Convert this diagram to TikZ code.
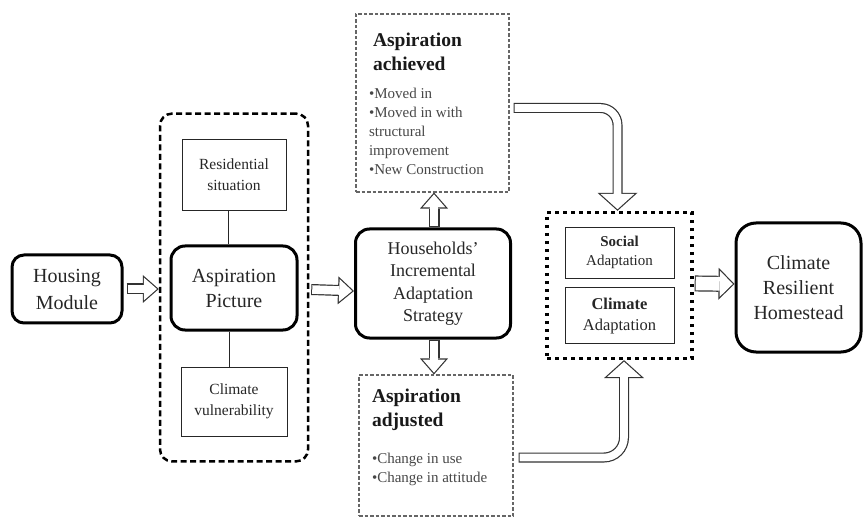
\documentclass[tikz,border=0pt]{standalone}
\usepackage{fontspec}
\setmainfont{Liberation Serif}
\usetikzlibrary{positioning,fit,arrows.meta}

\newcommand\bigsize{\fontsize{20}{26}\selectfont}
\newcommand\midsize{\fontsize{18}{22.5}\selectfont}
\newcommand\smallsize{\fontsize{15.5}{21}\selectfont}
\newcommand\titlesize{\fontsize{19.5}{24}\selectfont\bfseries\color{black!90}}
\newcommand\listsize{\fontsize{15}{19}\selectfont\color{black!72}}

\begin{document}
\begin{tikzpicture}[
  x=1pt, y=1pt,
  every node/.style={text=black!85},
  keybox/.style={draw=black, line width=3pt, rounded corners=12pt, align=center, inner sep=0pt},
  factbox/.style={draw=black!85, line width=0.9pt, align=center, inner sep=0pt},
  notebox/.style={draw=black!60, line width=1.1pt, dash pattern=on 3.5pt off 2pt, inner xsep=13pt, inner ysep=0pt},
  groupframe/.style={draw=black, line width=2.5pt, dash pattern=on 6pt off 3.5pt, rounded corners=12pt},
  dotframe/.style={draw=black, line width=3.5pt, dash pattern=on 3.5pt off 4.5pt},
  fatarrow/.style={draw=black!80, line width=11pt, -{Triangle[length=16pt,width=28pt,line width=0pt]},
    postaction={draw=white, line width=8.6pt, -{Triangle[length=13pt,width=22.7pt,line width=0pt]}, shorten >=1.8pt, shorten <=1pt}},
  widearrow/.style={draw=black!80, line width=16pt, -{Triangle[length=16pt,width=32pt,line width=0pt]},
    postaction={draw=white, line width=13.6pt, -{Triangle[length=13.1pt,width=26.2pt,line width=0pt]}, shorten >=1.7pt, shorten <=1pt}},
  bentarrow/.style={draw=black!80, line width=10pt, -{Triangle[length=18pt,width=40pt,line width=0pt]},
    postaction={draw=white, line width=7.6pt, -{Triangle[length=15.2pt,width=33.8pt,line width=0pt]}, shorten >=1.6pt, shorten <=1pt}}
]
  \useasboundingbox (0,0) rectangle (864,-518);

  \node[keybox, minimum width=110pt, minimum height=68pt, font=\fontsize{20}{27}\selectfont] (housing) at (67,-289) {Housing\\Module};

  \node[keybox, rounded corners=14pt, minimum width=126pt, minimum height=84pt, font=\fontsize{20}{25}\selectfont] (aspic) at (234,-288) {Aspiration\\Picture};
  \node[factbox, minimum width=104pt, minimum height=71pt, font=\smallsize, above=34pt of aspic] (resid) {Residential\\situation};
  \node[factbox, minimum width=106pt, minimum height=69pt, font=\smallsize, below=35pt of aspic] (climvul) {Climate\\vulnerability};
  \node[groupframe, fit=(resid)(aspic)(climvul), inner xsep=9.5pt, inner ysep=25pt] (picframe) {};
  \draw[black!85, line width=0.9pt] ([xshift=-6pt]resid.south) -- ([xshift=-6pt]aspic.north);
  \draw[black!85, line width=0.9pt] ([xshift=-5pt]aspic.south) -- ([xshift=-5pt]aspic.south |- climvul.north);

  \node[keybox, rounded corners=14pt, minimum width=155pt, minimum height=109pt, font=\midsize] (strategy) at (433,-283.5) {Households'\\Incremental\\Adaptation\\Strategy};

  \node[notebox] (achieved) at (432.5,-103) {\begin{minipage}[c][178pt][t]{127pt}\raggedright
    \vspace*{18.5pt}
    {\titlesize\hspace*{4pt}Aspiration\\\hspace*{4pt}achieved\par}
    \vspace{9pt}
    {\listsize •Moved in\\•Moved in with\\structural\\improvement\\•New Construction\par}
  \end{minipage}};

  \node[notebox] (adjusted) at (436,-445.5) {\begin{minipage}[c][141pt][t]{128pt}\raggedright
    \vspace*{14pt}
    {\titlesize Aspiration\\adjusted\par}
    \vspace{18pt}
    {\listsize •Change in use\\•Change in attitude\par}
  \end{minipage}};

  \node[factbox, minimum width=109pt, minimum height=51pt, font=\fontsize{15}{19}\selectfont] (social) at (619.5,-252.5) {\textbf{Social}\\Adaptation};
  \node[factbox, minimum width=109pt, minimum height=56pt, font=\fontsize{16.5}{21}\selectfont, below=9pt of social] (climad) {\textbf{Climate}\\Adaptation};
  \node[dotframe, fit=(social)(climad), inner xsep=17.5pt, inner ysep=14pt] (adaptframe) {};

  \node[keybox, rounded corners=20pt, minimum width=125pt, minimum height=129pt, font=\fontsize{20}{25}\selectfont] (resilient) at (798.5,-287.5) {Climate\\Resilient\\Homestead};

  \draw[fatarrow] ([xshift=3pt]housing.east) -- (picframe.west |- housing.east);
  \draw[fatarrow] ([xshift=2pt,yshift=-2pt]picframe.east) -- ([yshift=-7.5pt]strategy.west);
  \draw[fatarrow] ([xshift=1pt]strategy.north) -- ([xshift=1pt]strategy.north |- achieved.south);
  \draw[fatarrow] ([xshift=1pt]strategy.south) -- ([xshift=1pt]strategy.south |- adjusted.north);
  \draw[bentarrow, rounded corners=17pt] ([xshift=4pt,yshift=-5pt]achieved.east) -| ([xshift=-2pt]adaptframe.north);
  \draw[bentarrow, rounded corners=20pt] ([xshift=5pt,yshift=-12pt]adjusted.east) -| ([xshift=4.5pt]adaptframe.south);
  \draw[widearrow] ([xshift=1pt,yshift=2pt]adaptframe.east) -- ([yshift=3.5pt]resilient.west);
\end{tikzpicture}
\end{document}
